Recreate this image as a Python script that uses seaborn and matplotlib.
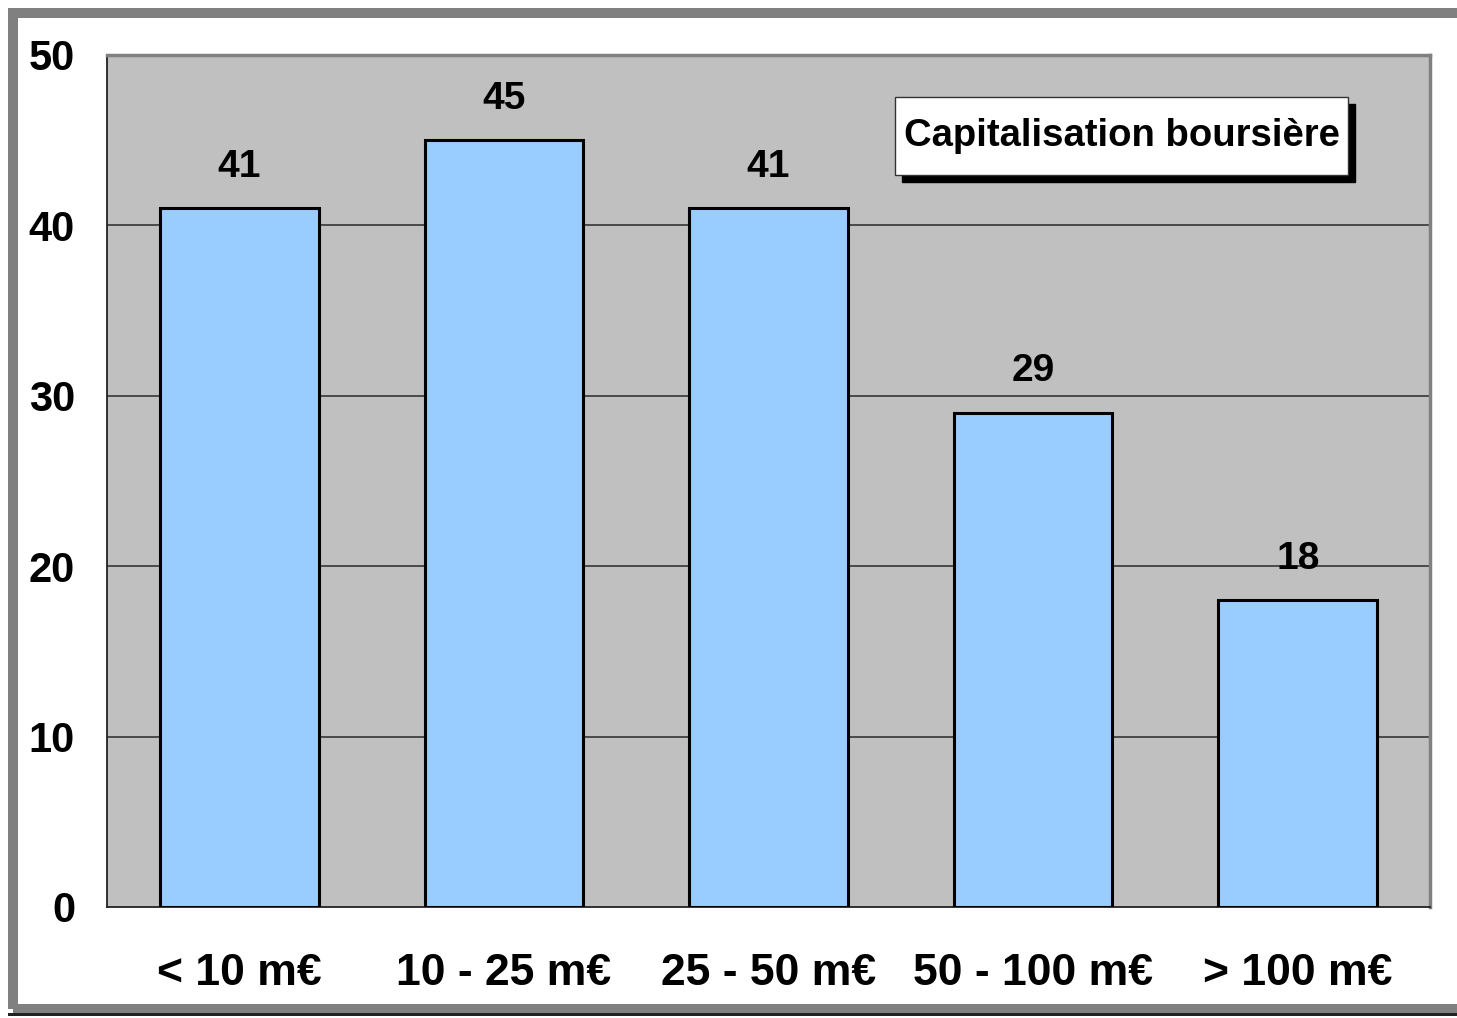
import matplotlib
matplotlib.use("Agg")
import matplotlib.pyplot as plt
from matplotlib.patches import Rectangle
import seaborn as sns
import pandas as pd
import numpy as np

# data
categories = ["< 10 m€", "10 - 25 m€", "25 - 50 m€", "50 - 100 m€", "> 100 m€"]
counts = [41, 45, 41, 29, 18]
yticks = [0, 10, 20, 30, 40, 50]
legend_label = "Capitalisation boursière"

df = pd.DataFrame({"cat": categories, "n": counts})

sns.set_style("white")
plt.rcParams["font.family"] = ["Liberation Sans", "DejaVu Sans"]
plt.rcParams["font.weight"] = "bold"
plt.rcParams["text.color"] = "black"
plt.rcParams["xtick.labelcolor"] = "black"
plt.rcParams["ytick.labelcolor"] = "black"

fig = plt.figure(figsize=(14.57, 10.18), dpi=100)
fig.patch.set_facecolor("white")
ax = fig.add_axes([107 / 1457, 1 - 907 / 1018, 1323 / 1457, 852 / 1018])
ax.set_facecolor("#C0C0C0")

sns.barplot(data=df, x="cat", y="n", color="#99CCFF", saturation=1,
            edgecolor="black", linewidth=2.2, width=0.6, ax=ax, zorder=3)

ax.set_xlim(-0.5, 4.5)
ax.set_ylim(0, 50)
ax.set_yticks(yticks)
ax.set_yticklabels([str(t) for t in yticks], fontsize=30, fontweight="bold",
                   color="black")
ax.set_xticks(range(len(categories)))
ax.set_xticklabels(categories, fontsize=32, fontweight="bold", color="black")
ax.set_xticks(np.arange(-0.5, 5, 1), minor=True)
ax.tick_params(axis="x", which="major", length=0, pad=33)
ax.tick_params(axis="x", which="minor", length=9, width=1.2, color="#222222")
ax.tick_params(axis="y", length=9, width=1.2, color="#222222", pad=14)
ax.set_xlabel("")
ax.set_ylabel("")

# grid lines at 10..40
for t in yticks[1:-1]:
    ax.axhline(t, color="#404040", lw=1.3, zorder=1)

for side in ["left", "bottom"]:
    ax.spines[side].set_color("#222222")
    ax.spines[side].set_linewidth(1.3)
for side in ["top", "right"]:
    ax.spines[side].set_color("#808080")
    ax.spines[side].set_linewidth(2.5)

ax.bar_label(ax.containers[0], labels=[str(v) for v in counts], padding=17,
             fontsize=28, fontweight="bold", color="black")

# legend-like box with shadow
bx, by, bw, bh = 0.5956, 0.8592, 0.3424, 0.0915
ax.add_patch(Rectangle((bx + 0.0055, by - 0.0085), bw, bh, transform=ax.transAxes,
                       facecolor="black", edgecolor="black", zorder=5, clip_on=False))
ax.add_patch(Rectangle((bx, by), bw, bh, transform=ax.transAxes,
                       facecolor="white", edgecolor="#333333", lw=1, zorder=6, clip_on=False))
ax.text(bx + bw / 2, by + bh / 2, legend_label, transform=ax.transAxes,
        ha="center", va="center", fontsize=27.5, fontweight="bold", zorder=7)

# outer frame
fig.patches.append(Rectangle((13 / 1457, 1 - 1009 / 1018), 1.02, 996 / 1018,
                             transform=fig.transFigure, fill=False,
                             edgecolor="#808080", lw=7.2, zorder=0))
fig.patches.append(Rectangle((8 / 1457, 1 - 1016 / 1018), 1.02, 3 / 1018,
                             transform=fig.transFigure, facecolor="#222222",
                             edgecolor="none", zorder=0))

fig.savefig("out.png", dpi=100)
